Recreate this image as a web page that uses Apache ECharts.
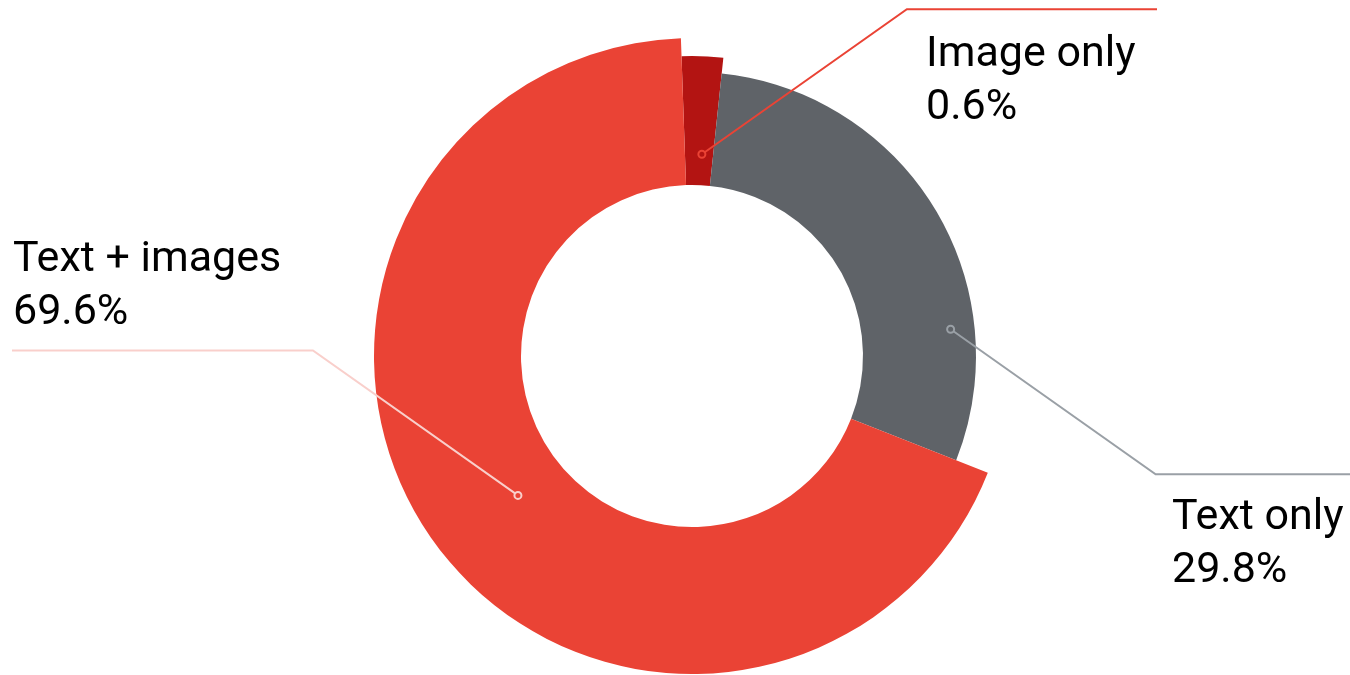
<!DOCTYPE html>
<html>
<head>
<meta charset="utf-8">
<title>Content type share</title>
<script src="https://cdn.jsdelivr.net/npm/echarts@6/dist/echarts.min.js"></script>
<style>
  html, body { margin: 0; padding: 0; background: #ffffff; }
  #chart { width: 1350px; height: 675px; }
</style>
</head>
<body>
<div id="chart"></div>
<script>
// Share of content by type, in percent (clockwise from 12 o'clock)
const categories = ['Image only', 'Text only', 'Text + images'];
const shares = [0.6, 29.8, 69.6];

// Styling per slice
const sliceColors = ['#B31412', '#5F6368', '#EA4335'];
const lineColors = ['#EA4335', '#9AA0A6', '#F9CFCB'];
const outerRadii = [300, 284, 318];
// where each callout sits: dot along the slice (fraction of its sweep, radius),
// elbow direction, end of the leader line and label anchor
const callouts = [
  { frac: 0.6, r: 202, dir: [1, -1], lineEnd: 1157, labelX: 926, labelY: 82 },
  { frac: 0.74, r: 260, dir: [1, 1], lineEnd: 1350, labelX: 1172, labelY: 545 },
  { frac: 0.486, r: 223, dir: [-1, -1], lineEnd: 12, labelX: 13, labelY: 287 }
];

const CENTER = [692, 356];
const INNER_R = 171;
const START_ANGLE = 92;   // ECharts degrees (counter-clockwise from 3 o'clock)
const MIN_ANGLE = 8;

// Same sweep rule as the pie layout with minAngle, to place the callout dots
function sliceSweeps(vals) {
  const total = vals.reduce((a, b) => a + b, 0);
  let rest = 360, bigSum = 0;
  vals.forEach(v => {
    const a = v / total * 360;
    if (a < MIN_ANGLE) rest -= MIN_ANGLE; else bigSum += v;
  });
  return vals.map(v => {
    const a = v / total * 360;
    return a < MIN_ANGLE ? MIN_ANGLE : v * rest / bigSum;
  });
}

const sweeps = sliceSweeps(shares);
// angle measured clockwise from 12 o'clock
let acc = 90 - START_ANGLE;
const dots = sweeps.map((sw, i) => {
  const theta = (acc + sw * callouts[i].frac) * Math.PI / 180;
  acc += sw;
  return [CENTER[0] + callouts[i].r * Math.sin(theta),
          CENTER[1] - callouts[i].r * Math.cos(theta)];
});

function calloutPoints(i) {
  const c = callouts[i];
  const d = dots[i];
  const elbow = [d[0] + c.dir[0] * 205, d[1] + c.dir[1] * 145];
  return [d, elbow, [c.lineEnd, elbow[1]]];
}

const series = categories.map((_, k) => ({
  type: 'pie',
  name: categories[k],
  center: CENTER,
  radius: [INNER_R, outerRadii[k]],
  startAngle: START_ANGLE,
  minAngle: MIN_ANGLE,
  clockwise: true,
  avoidLabelOverlap: false,
  silent: true,
  emphasis: { disabled: true },
  label: {
    show: true,
    formatter: '{b}\n{c}%',
    color: '#000000',
    fontFamily: 'Roboto, sans-serif',
    fontSize: 43,
    lineHeight: 53
  },
  labelLine: { show: false },
  labelLayout: function () {
    const c = callouts[k];
    return { x: c.labelX, y: c.labelY, align: 'left', verticalAlign: 'middle' };
  },
  data: categories.map((name, i) => ({
    name: name,
    value: shares[i],
    itemStyle: { color: i === k ? sliceColors[i] : 'rgba(0,0,0,0)' },
    label: { show: i === k }
  }))
}));

// leader lines drawn above every slice, each starting at a small ring
const leaders = [];
categories.forEach((_, i) => {
  leaders.push({
    type: 'polyline',
    z: 100,
    shape: { points: calloutPoints(i) },
    style: { stroke: lineColors[i], lineWidth: 2, fill: null }
  });
  leaders.push({
    type: 'circle',
    z: 101,
    shape: { cx: dots[i][0], cy: dots[i][1], r: 3.5 },
    style: { fill: sliceColors[i], stroke: lineColors[i], lineWidth: 2 }
  });
});

const chart = echarts.init(document.getElementById('chart'), null, { renderer: 'canvas' });
chart.setOption({
  backgroundColor: '#ffffff',
  animation: false,
  series: series,
  graphic: leaders
});
</script>
</body>
</html>
